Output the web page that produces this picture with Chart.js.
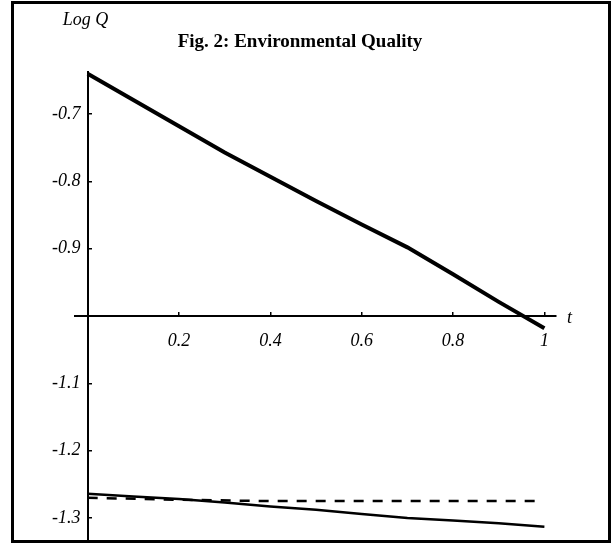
<!DOCTYPE html>
<html lang="en">
<head>
  <meta charset="UTF-8">
  <title>Fig. 2: Environmental Quality</title>
  <script src="https://cdn.jsdelivr.net/npm/chart.js"></script>
  <style>
    body {
      margin: 0;
      background-color: #fff;
    }
    #wrap {
      position: relative;
      width: 612px;
      height: 546px;
    }
    #frame {
      position: absolute;
      left: 11px;
      top: 1px;
      width: 600px;
      height: 542px;
      box-sizing: border-box;
      border: 3px solid #000;
    }
    #chart-box {
      position: absolute;
      left: 0;
      top: 0;
      width: 612px;
      height: 546px;
    }
  </style>
</head>
<body>
<div id="wrap">
  <div id="frame"></div>
  <div id="chart-box">
    <canvas id="qualityChart"></canvas>
  </div>
</div>

<script>
  // values
  const tValues = [0, 0.1, 0.2, 0.3, 0.4, 0.5, 0.6, 0.7, 0.8, 0.9, 1.0];
  const logQUpper = [-0.640, -0.679, -0.718, -0.757, -0.793, -0.829, -0.864, -0.898, -0.938, -0.979, -1.018];
  const logQLower = [-1.264, -1.268, -1.272, -1.277, -1.283, -1.288, -1.294, -1.300, -1.304, -1.308, -1.313];
  const tDashed = [0, 0.2, 0.4, 0.6, 0.8, 0.985];
  const logQDashed = [-1.270, -1.273, -1.275, -1.275, -1.275, -1.275];

  const xTicks = [0.2, 0.4, 0.6, 0.8, 1];
  const yTicks = [-0.7, -0.8, -0.9, -1.1, -1.2, -1.3];

  const titleText = 'Fig. 2: Environmental Quality';
  const yAxisTitle = 'Log Q';
  const xAxisTitle = 't';

  const serif = "'Liberation Serif', 'Times New Roman', serif";
  const tickFont = { family: serif, size: 18, style: 'italic' };

  const toPoints = (xs, ys) => xs.map((x, i) => ({ x: x, y: ys[i] }));

  // title and axis names, placed from the scales
  const figText = {
    id: 'figText',
    afterDraw(chart) {
      const ctx = chart.ctx;
      const xs = chart.scales.x;
      const ys = chart.scales.y;
      ctx.save();
      ctx.fillStyle = '#000';
      ctx.textBaseline = 'alphabetic';
      ctx.font = 'bold 19px ' + serif;
      ctx.textAlign = 'center';
      ctx.fillText(titleText, 300, 47);
      ctx.font = 'italic 18px ' + serif;
      ctx.textAlign = 'left';
      ctx.fillText(yAxisTitle, xs.getPixelForValue(0) - 25, 25);
      ctx.fillText(xAxisTitle, xs.right + 11, ys.getPixelForValue(-1) + 7);
      ctx.restore();
    }
  };

  const ctx = document.getElementById('qualityChart').getContext('2d');
  new Chart(ctx, {
    type: 'line',
    data: {
      datasets: [{
        label: 'Upper',
        data: toPoints(tValues, logQUpper),
        borderColor: '#000',
        borderWidth: 4,
        pointRadius: 0,
        tension: 0,
        clip: false
      }, {
        label: 'Lower',
        data: toPoints(tValues, logQLower),
        borderColor: '#000',
        borderWidth: 2.5,
        pointRadius: 0,
        tension: 0,
        clip: false
      }, {
        label: 'Dashed',
        data: toPoints(tDashed, logQDashed),
        borderColor: '#000',
        borderWidth: 2.5,
        borderDash: [10, 9],
        pointRadius: 0,
        tension: 0,
        clip: false
      }]
    },
    options: {
      responsive: true,
      maintainAspectRatio: false,
      animation: false,
      layout: {
        padding: { left: 75, right: 56, top: 72, bottom: 6 }
      },
      plugins: {
        legend: { display: false },
        tooltip: { enabled: false }
      },
      scales: {
        x: {
          type: 'linear',
          min: -0.0278,
          max: 1.0254,
          position: { y: -1 },
          afterBuildTicks: s => { s.ticks = xTicks.map(v => ({ value: v })); },
          afterFit: s => { s.paddingLeft = 0; s.paddingRight = 0; },
          grid: { drawOnChartArea: false, tickLength: -5, color: '#000', lineWidth: 1.5 },
          border: { color: '#000', width: 2 },
          ticks: {
            color: '#000',
            font: tickFont,
            padding: 19,
            autoSkip: false,
            maxRotation: 0,
            callback: v => String(v)
          }
        },
        y: {
          type: 'linear',
          min: -1.3328,
          max: -0.6374,
          position: { x: 0 },
          afterBuildTicks: s => { s.ticks = yTicks.map(v => ({ value: v })); },
          afterFit: s => { s.paddingTop = 0; s.paddingBottom = 0; },
          grid: { drawOnChartArea: false, tickLength: -5, color: '#000', lineWidth: 1.5 },
          border: { color: '#000', width: 2 },
          ticks: {
            color: '#000',
            font: tickFont,
            padding: 0,
            autoSkip: false,
            // small gap between label and axis line
            callback: v => String(v) + '\u2009\u2009'
          }
        }
      }
    },
    plugins: [figText]
  });
</script>
</body>
</html>
